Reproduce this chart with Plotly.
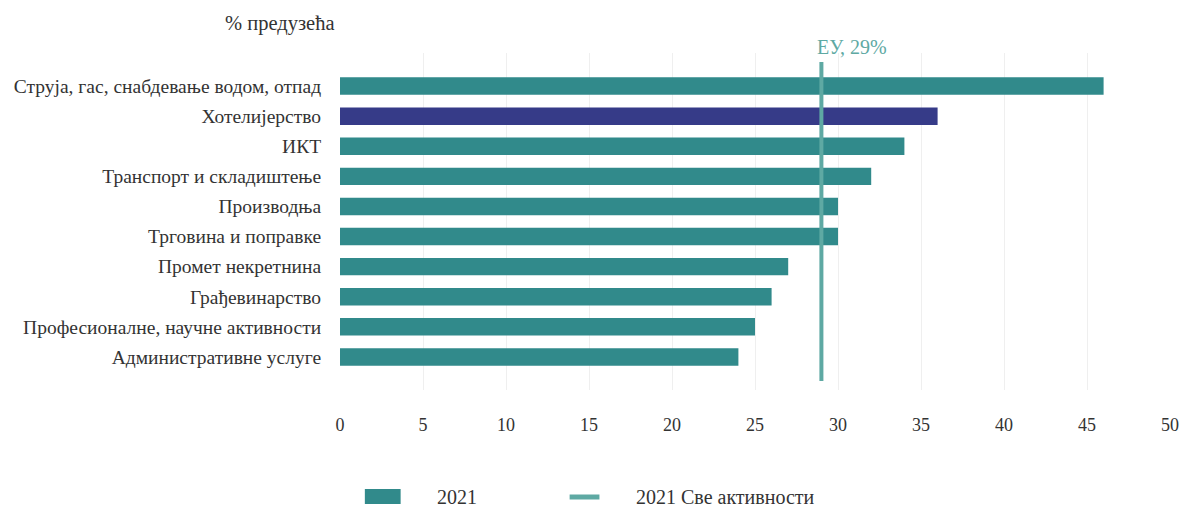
import plotly.graph_objects as go

# Share of enterprises by activity, 2021
categories = [
    "Струја, гас, снабдевање водом, отпад",
    "Хотелијерство",
    "ИКТ",
    "Транспорт и складиштење",
    "Производња",
    "Трговина и поправке",
    "Промет некретнина",
    "Грађевинарство",
    "Професионалне, научне активности",
    "Административне услуге",
]
values_2021 = [46, 36, 34, 32, 30, 30, 27, 26, 25, 24]
eu_all_activities = 29
highlight = "Хотелијерство"
x_ticks = [0, 5, 10, 15, 20, 25, 30, 35, 40, 45, 50]

TEAL = "#318a8b"
NAVY = "#363b88"
LINE_TEAL = "#5ea9a3"
TEXT = "#333333"
FONT = "Liberation Serif"

W, H = 1191, 508
ML, MR, MT, MB = 340, 16, 53, 118
plot_w = W - ML - MR
plot_h = H - MT - MB


def px_x(px):
    return (px - ML) / plot_w


def px_y(py):
    return (H - MB - py) / plot_h


positions = list(range(len(categories)))
bar_colors = [NAVY if c == highlight else TEAL for c in categories]

fig = go.Figure()
fig.add_trace(go.Bar(
    x=values_2021,
    y=positions,
    orientation="h",
    marker=dict(color=bar_colors, line=dict(width=0)),
    width=0.58,
    name="2021",
    hoverinfo="x",
    showlegend=False,
))
fig.add_trace(go.Scatter(
    x=[eu_all_activities, eu_all_activities],
    y=[-0.8, len(categories) - 0.2],
    mode="lines",
    line=dict(color=LINE_TEAL, width=4),
    name="2021 Све активности",
    hoverinfo="skip",
    showlegend=False,
))

fig.add_annotation(
    x=eu_all_activities, y=-0.8, xref="x", yref="y",
    text="ЕУ, 29%", showarrow=False,
    xanchor="left", yanchor="bottom", xshift=-6, yshift=2,
    font=dict(family=FONT, size=20, color=LINE_TEAL),
)
fig.add_annotation(
    x=0, y=1, xref="paper", yref="paper",
    text="% предузећа", showarrow=False,
    xanchor="right", yanchor="bottom", xshift=-4, yshift=16,
    font=dict(family=FONT, size=20.5, color=TEXT),
)

# Legend drawn below the axis
legend_font = dict(family=FONT, size=20, color=TEXT)
fig.add_shape(type="rect", xref="paper", yref="paper",
              x0=px_x(365), x1=px_x(401), y0=px_y(504), y1=px_y(489),
              fillcolor=TEAL, line=dict(width=0))
fig.add_annotation(x=px_x(436), y=px_y(497), xref="paper", yref="paper",
                   text="2021", showarrow=False, xanchor="left", yanchor="middle",
                   font=legend_font)
fig.add_shape(type="line", xref="paper", yref="paper",
              x0=px_x(571), x1=px_x(601), y0=px_y(497), y1=px_y(497),
              line=dict(color=LINE_TEAL, width=5))
fig.add_annotation(x=px_x(636), y=px_y(497), xref="paper", yref="paper",
                   text="2021 Све активности", showarrow=False,
                   xanchor="left", yanchor="middle", font=legend_font)

fig.update_layout(
    width=W, height=H,
    margin=dict(l=ML, r=MR, t=MT, b=MB),
    paper_bgcolor="white", plot_bgcolor="white",
    font=dict(family=FONT, size=16, color=TEXT),
    showlegend=False,
)
fig.update_xaxes(
    range=[0, 50], tickvals=x_ticks,
    showgrid=True, gridcolor="#efefef", gridwidth=1,
    zeroline=False, showline=False,
    ticks="outside", ticklen=18, tickcolor="rgba(0,0,0,0)",
    tickfont=dict(family=FONT, size=18, color=TEXT),
)
fig.update_yaxes(
    range=[len(categories) + 0.1, -1.1],
    tickvals=positions, ticktext=categories,
    showgrid=False, zeroline=False, showline=False,
    ticks="outside", ticklen=14, tickcolor="rgba(0,0,0,0)",
    tickfont=dict(family=FONT, size=19.5, color=TEXT),
)

fig.write_html("out.html")
